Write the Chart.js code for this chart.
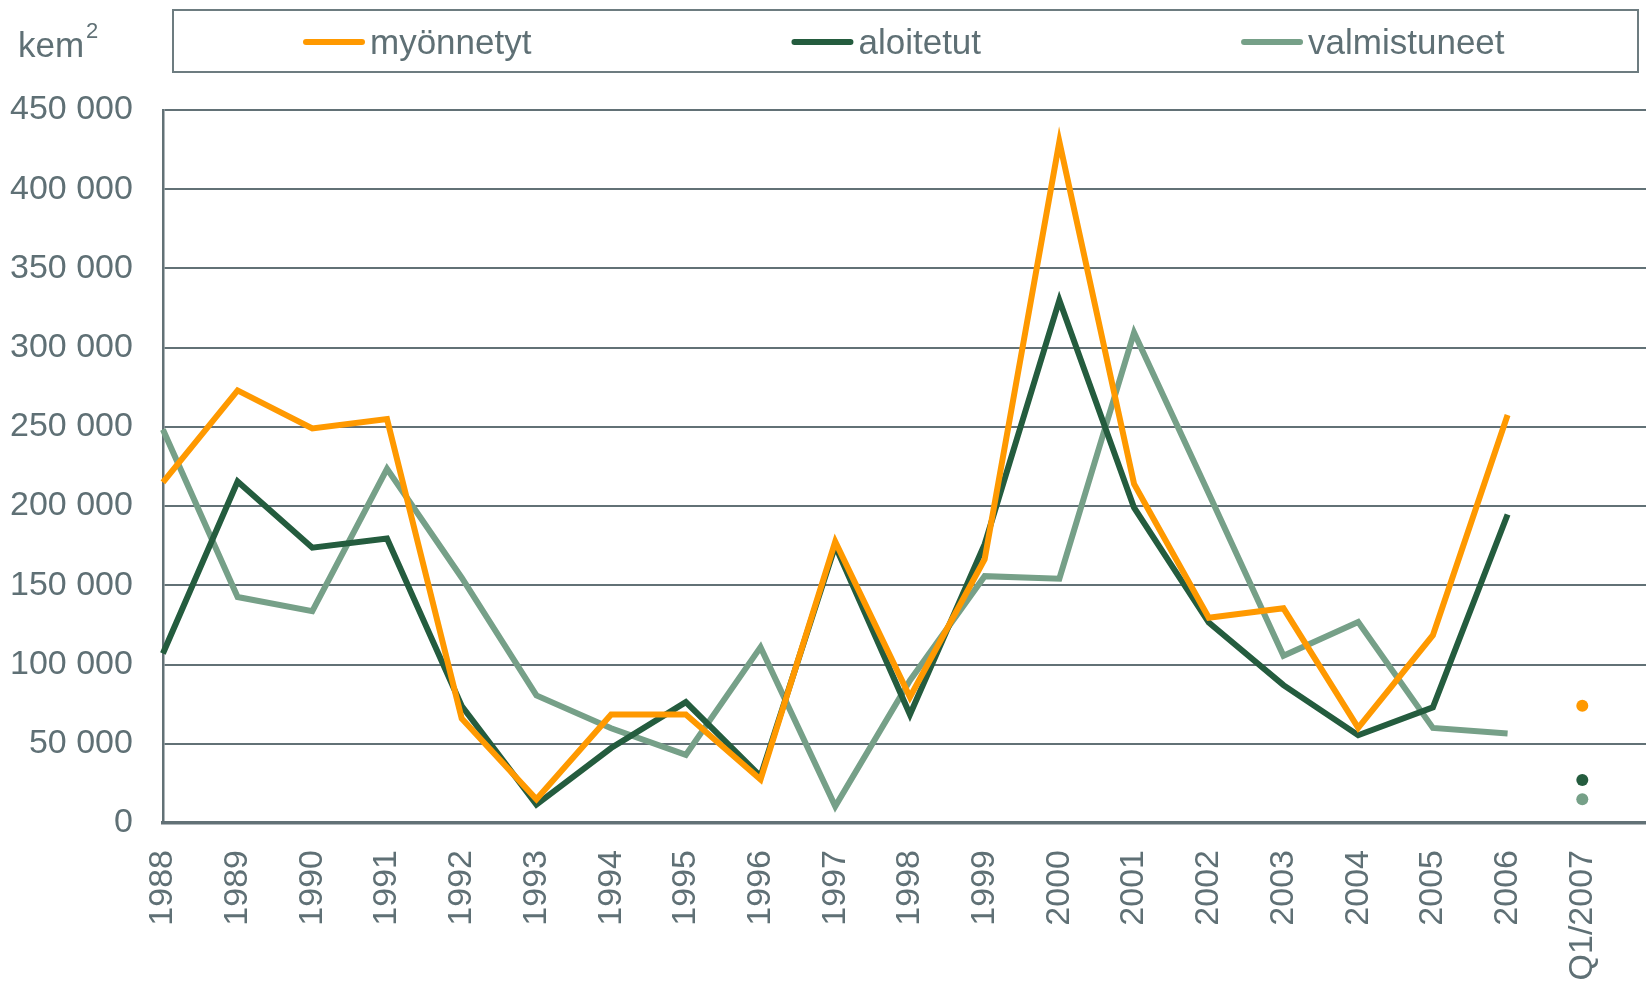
<!DOCTYPE html>
<html>
<head>
<meta charset="utf-8">
<script src="https://cdn.jsdelivr.net/npm/chart.js@4/dist/chart.umd.min.js"></script>
<style>
    html, body { margin: 0; padding: 0; background: #fff; overflow: hidden; }
    #wrap { width: 1663px; height: 984px; }
</style>
</head>
<body>
<div id="wrap"><canvas id="building-chart"></canvas></div>
<script>
// categories (last one is an empty slot so the plot runs to the right edge)
const years = ['1988', '1989', '1990', '1991', '1992', '1993', '1994', '1995', '1996', '1997',
    '1998', '1999', '2000', '2001', '2002', '2003', '2004', '2005', '2006', 'Q1/2007', ''];

const myonnetyt = [215000, 273000, 249000, 255000, 66000, 15000, 68500, 68500, 27500, 177500,
    79500, 166500, 430000, 214000, 129500, 135500, 60000, 118500, 257500, 74000];
const aloitetut = [107000, 215500, 173800, 179500, 73800, 11600, 47300, 76300, 29500, 175000,
    68500, 176000, 330000, 199000, 126500, 87000, 55400, 73000, 194700, 27200];
const valmistuneet = [248400, 142600, 133700, 223500, 154800, 80500, 59800, 43000, 111000, 10500,
    90000, 155800, 154200, 309500, 208000, 105500, 126800, 60000, 56500, 15000];

const seriesLabels = ['myönnetyt', 'aloitetut', 'valmistuneet'];
const unitLabel = 'kem';
const unitSup = '2';

const TEXT = '#5f7075';
const GRID = '#627176';
const FONT = '"Liberation Sans", Arial, sans-serif';
const Q1_INDEX = 19;

const formatThousands = (v) => String(v).replace(/\B(?=(\d{3})+(?!\d))/g, ' ');

const makeDataset = (label, data, color) => ({
    label: label,
    data: data,
    borderColor: color,
    backgroundColor: color,
    borderWidth: 6,
    tension: 0,
    pointRadius: (ctx) => ctx.dataIndex === Q1_INDEX ? 6 : 0,
    pointHoverRadius: 0,
    pointBorderWidth: 0,
    segment: {
        // Q1/2007 is a lone point, not joined to the yearly line
        borderColor: (ctx) => ctx.p1DataIndex === Q1_INDEX ? 'rgba(0,0,0,0)' : undefined
    }
});

const legendBox = {
    id: 'legendBox',
    afterDraw(chart) {
        const ctx = chart.ctx;
        ctx.save();
        ctx.strokeStyle = '#6d7c80';
        ctx.lineWidth = 2;
        ctx.strokeRect(173, 10, 1465, 62);

        ctx.font = '35px ' + FONT;
        ctx.textBaseline = 'middle';
        let x = 306;
        chart.data.datasets.forEach(ds => {
            ctx.strokeStyle = ds.borderColor;
            ctx.lineWidth = 6;
            ctx.lineCap = 'round';
            ctx.beginPath();
            ctx.moveTo(x, 42);
            ctx.lineTo(x + 56, 42);
            ctx.stroke();
            ctx.fillStyle = TEXT;
            ctx.fillText(ds.label, x + 64, 44);
            x += 64 + ctx.measureText(ds.label).width + 263;
        });

        // unit label top left
        ctx.textBaseline = 'alphabetic';
        ctx.fillStyle = TEXT;
        ctx.fillText(unitLabel, 18, 57);
        const w = ctx.measureText(unitLabel).width;
        ctx.font = '22px ' + FONT;
        ctx.fillText(unitSup, 18 + w + 2, 38);
        ctx.restore();
    }
};

new Chart(document.getElementById('building-chart'), {
    type: 'line',
    data: {
        labels: years,
        datasets: [
            makeDataset(seriesLabels[0], myonnetyt, '#ff9900'),
            makeDataset(seriesLabels[1], aloitetut, '#245c3e'),
            makeDataset(seriesLabels[2], valmistuneet, '#76a088')
        ]
    },
    options: {
        responsive: true,
        maintainAspectRatio: false,
        animation: false,
        layout: {
            padding: { top: 110, left: 10, right: 3, bottom: 1 }
        },
        plugins: {
            legend: { display: false },
            tooltip: { enabled: false }
        },
        scales: {
            x: {
                grid: { display: false, drawTicks: false },
                border: { display: true, color: GRID, width: 3.5 },
                ticks: {
                    color: TEXT,
                    font: { family: FONT, size: 34 },
                    minRotation: 90,
                    maxRotation: 90,
                    autoSkip: false,
                    padding: 27
                },
                afterFit: (scale) => {
                    // rotated labels: no side padding, fixed label band
                    scale.paddingLeft = 0;
                    scale.paddingRight = 0;
                    scale.height = 160;
                }
            },
            y: {
                min: 0,
                max: 450000,
                grid: { color: GRID, lineWidth: 2, drawTicks: false },
                border: { display: true, color: GRID, width: 2.5 },
                ticks: {
                    stepSize: 50000,
                    color: TEXT,
                    font: { family: FONT, size: 34 },
                    padding: 30,
                    callback: (value) => formatThousands(value)
                },
                afterFit: (scale) => {
                    // chart.js counts tick padding twice here
                    scale.width -= scale.options.ticks.padding;
                }
            }
        }
    },
    plugins: [legendBox]
});
</script>
</body>
</html>
